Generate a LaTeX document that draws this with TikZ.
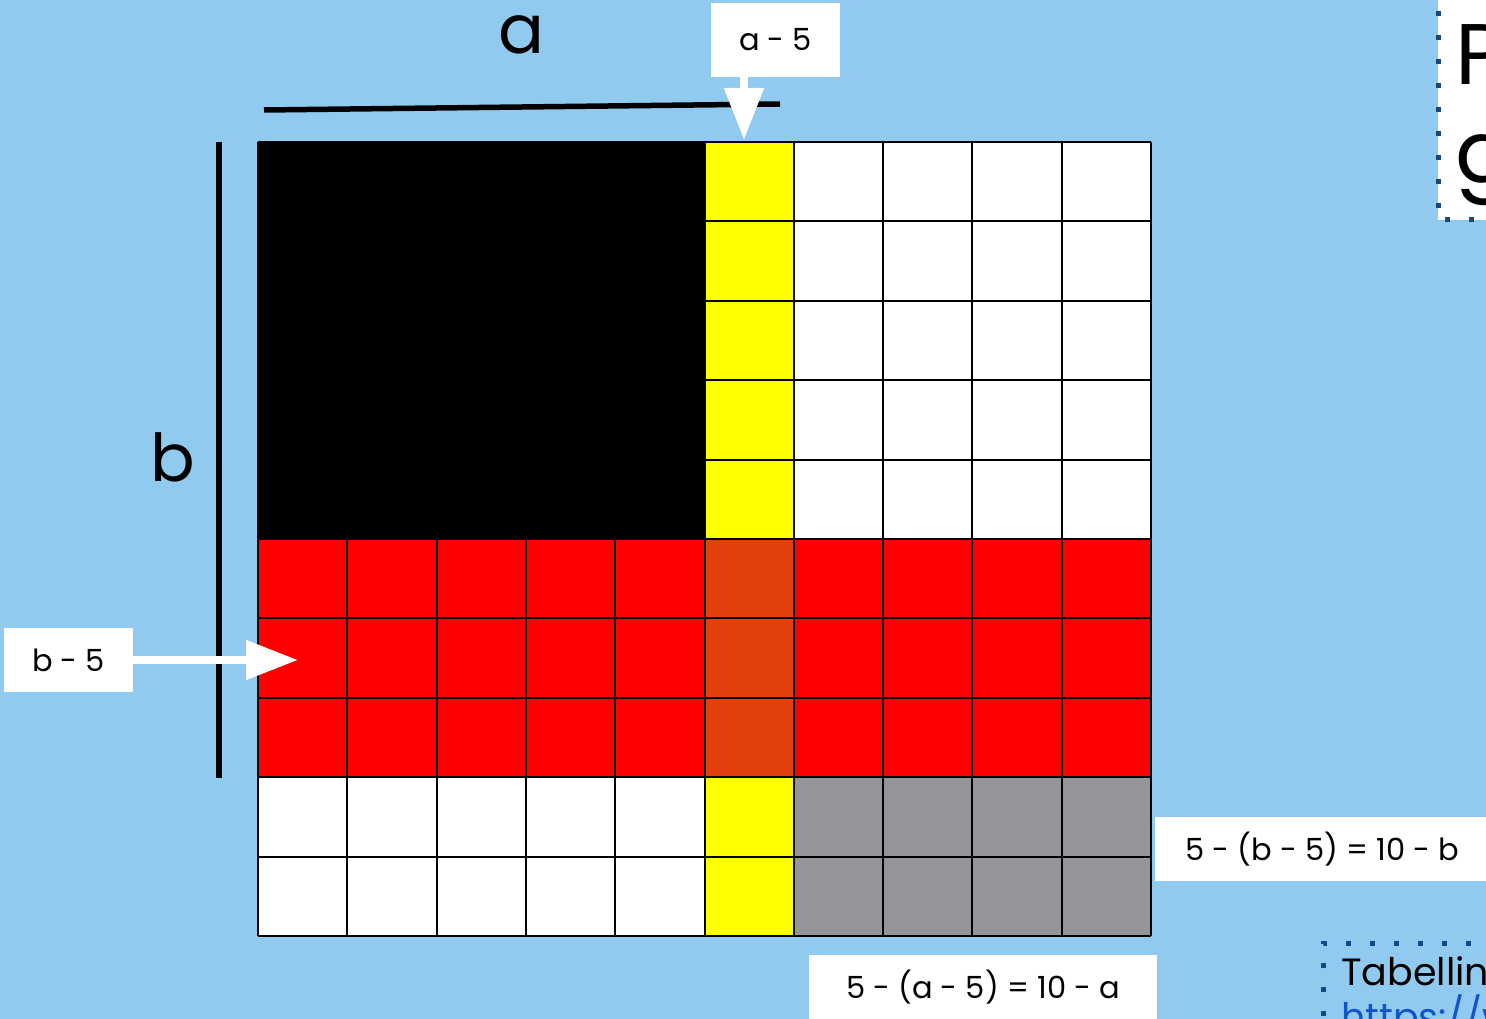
\documentclass[tikz,border=0pt]{standalone}
\usepackage{fontspec}
\setmainfont{Poppins}
\usetikzlibrary{arrows.meta}
\definecolor{bg}{HTML}{91CAEF}
\definecolor{cyel}{HTML}{FFFF00}
\definecolor{cred}{HTML}{FF0000}
\definecolor{corg}{HTML}{E3400E}
\definecolor{cgry}{HTML}{939598}
\definecolor{dotblue}{HTML}{1C4587}
\definecolor{linkblue}{HTML}{1155CC}
\tikzset{
  lbl/.style={fill=white, inner sep=0pt, font=\fontsize{30.5}{36}\selectfont},
  wharrow/.style={white, line width=8pt, -{Triangle[length=52pt,width=38pt]}},
  dotbox/.style={draw=dotblue, line width=5pt, dash pattern=on 5pt off 19pt},
  gridline/.style={black, line width=2pt},
  dimline/.style={black, line width=5.5pt},
}
\begin{document}
\begin{tikzpicture}[x=1pt,y=-1pt]
\useasboundingbox (0,0) rectangle (1486,1019);
\clip (0,0) rectangle (1486,1019);
\fill[bg] (0,0) rectangle (1486,1019);
% grid fills
\fill[white] (258,142) rectangle (1151,936);
\fill[black] (258,142) rectangle (704,540);
\fill[cyel] (704,142) rectangle (793,540);
\fill[cyel] (704,778) rectangle (793,936);
\fill[cred] (258,540) rectangle (1151,778);
\fill[corg] (704,540) rectangle (793,778);
\fill[cgry] (793,778) rectangle (1151,936);
% grid lines
\foreach \i in {0,...,10} {
  \draw[gridline] ({258+\i*89.3},142) -- ({258+\i*89.3},936);
  \draw[gridline] (258,{142+\i*79.4}) -- (1151,{142+\i*79.4});
}
% dimension lines
\draw[dimline] (264,110) -- (780,104);
\draw[dimline] (219,142) -- (219,778);
\node[inner sep=0pt, font=\fontsize{68}{68}\selectfont] (la) at (521,35) {a};
\node[inner sep=0pt, font=\fontsize{66}{66}\selectfont] (lb) at (173,457) {b};
% label boxes
\node[lbl, minimum width=129pt, minimum height=74pt] (a5) at (775.5,40) {a - 5};
\node[lbl, minimum width=129pt, minimum height=64pt] (b5) at (68.5,660) {b - 5};
\node[lbl, minimum width=335pt, minimum height=64pt] (rb) at (1322.5,849) {5 - (b - 5) = 10 - b};
\node[lbl, minimum width=348pt, minimum height=64pt] (ra) at (983,987) {5 - (a - 5) = 10 - a};
% arrows
\coordinate (tipA) at (744,140);
\coordinate (tipB) at (298,660);
\draw[wharrow] (tipA |- a5.south) -- (tipA);
\draw[wharrow] (b5.east) -- (tipB);
% top-right box
\fill[white] (1438,-20) rectangle (1520,220);
\draw[dotbox] (1438,-13) -- (1438,220) -- (1520,220);
\node[anchor=base west, inner sep=0pt, font=\fontsize{86}{86}\selectfont] (tp) at (1455,85) {P};
\node[anchor=base west, inner sep=0pt, font=\fontsize{86}{86}\selectfont] (tg) at (1455,183) {g};
% bottom-right box
\draw[dotbox] (1323,1040) -- (1323,943) -- (1520,943);
\node[anchor=base west, inner sep=0pt, font=\fontsize{38}{38}\selectfont] (tb) at (1341,985) {Tabelline};
\node[anchor=base west, inner sep=0pt, text=linkblue, font=\fontsize{38}{38}\selectfont] (tl) at (1341,1030) {\underline{https://www}};
\end{tikzpicture}
\end{document}
